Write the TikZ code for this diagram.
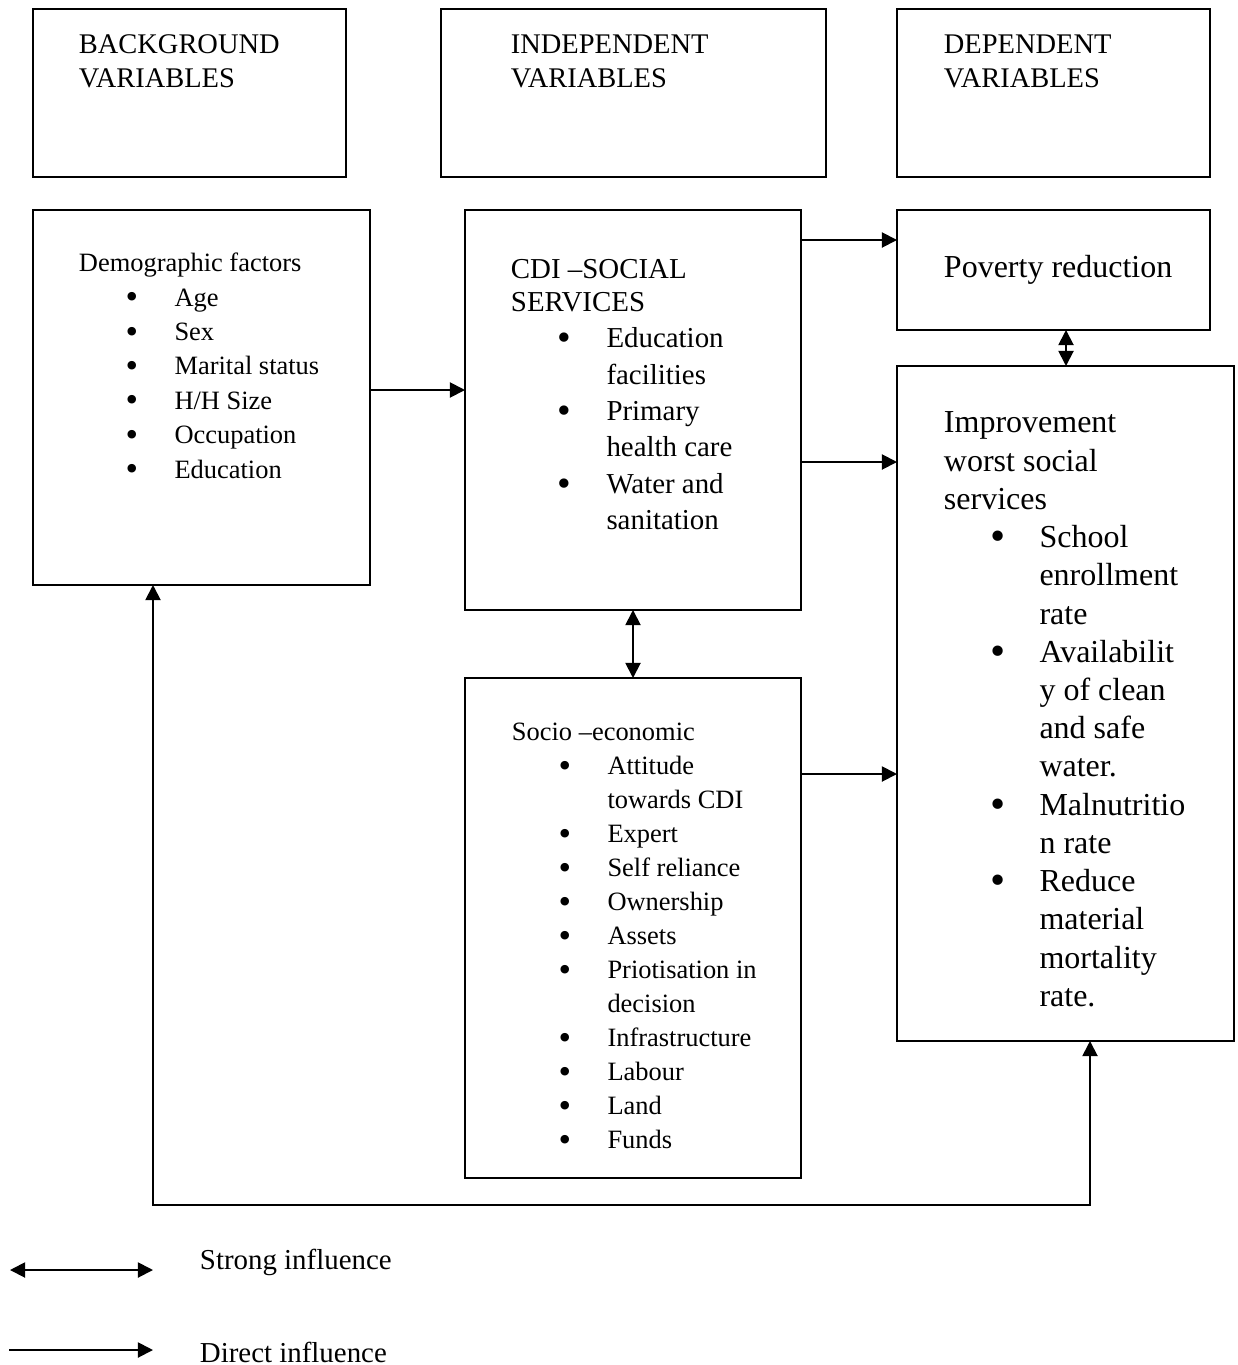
\documentclass[tikz,border=0pt]{standalone}
\usepackage{fontspec}
\usepackage{graphicx}
\setmainfont{Liberation Serif}
\usetikzlibrary{arrows.meta}

% bullet lines inside the boxes
\newcommand{\bitem}[1]{\hspace*{21pt}\makebox[22pt][l]{\raisebox{-0.1em}{\scalebox{1.35}{\textbullet}}}#1}
\newcommand{\bcont}[1]{\hspace*{43pt}#1}

\begin{document}
\begin{tikzpicture}[x=0.45pt, y=-0.45pt, line width=0.85pt,
    box/.style 2 args={draw, rectangle, inner sep=0pt, outer sep=0pt,
      minimum width=#1*0.45pt, minimum height=#2*0.45pt},
    txt/.style={anchor=north west, inner sep=0pt, align=left},
    headfont/.style={font=\fontsize{12.8pt}{15.1pt}\selectfont},
    smallfont/.style={font=\fontsize{11.9pt}{15.5pt}\selectfont},
    midfont/.style={font=\fontsize{13pt}{16.4pt}\selectfont},
    bigfont/.style={font=\fontsize{14.4pt}{17.2pt}\selectfont},
    dir/.style={-{Triangle[length=6.8pt,width=6.8pt]}},
    both/.style={{Triangle[length=6.8pt,width=6.8pt]}-{Triangle[length=6.8pt,width=6.8pt]}}]
  \useasboundingbox (0,0) rectangle (1237,1365);

  % column headings
  \node[box={313}{168}] (bghead) at (189.5,93) {};
  \node[box={385}{168}] (indhead) at (633.5,93) {};
  \node[box={313}{168}] (dephead) at (1053.5,93) {};
  \node[txt, headfont] (bgtxt) at (78,34) {BACKGROUND\\VARIABLES};
  \node[txt, headfont] (indtxt) at (510,34) {INDEPENDENT\\VARIABLES};
  \node[txt, headfont] (deptxt) at (943,34) {DEPENDENT\\VARIABLES};

  % boxes
  \node[box={337}{375}] (demo) at (201.5,397.5) {};
  \node[box={336}{400}] (cdi) at (633,410) {};
  \node[box={313}{120}] (pov) at (1053.5,270) {};
  \node[box={337}{675}] (impr) at (1065.5,703.5) {};
  \node[box={336}{500}] (socio) at (633,928) {};

  \node[txt, smallfont] (demotxt) at (78,252) {Demographic factors\\
    \bitem{Age}\\ \bitem{Sex}\\ \bitem{Marital status}\\
    \bitem{H/H Size}\\ \bitem{Occupation}\\ \bitem{Education}};
  \node[txt, midfont] (cditxt) at (510,258) {CDI –SOCIAL\\[-1.5pt]
    SERVICES\\ \bitem{Education}\\ \bcont{facilities}\\
    \bitem{Primary}\\ \bcont{health care}\\
    \bitem{Water and}\\ \bcont{sanitation}};
  \node[txt, bigfont] (povtxt) at (943,254) {Poverty reduction};
  \node[txt, bigfont] (imprtxt) at (943,411) {Improvement\\
    worst social\\ services\\
    \bitem{School}\\ \bcont{enrollment}\\ \bcont{rate}\\
    \bitem{Availabilit}\\ \bcont{y of clean}\\ \bcont{and safe}\\ \bcont{water.}\\
    \bitem{Malnutritio}\\ \bcont{n rate}\\
    \bitem{Reduce}\\ \bcont{material}\\ \bcont{mortality}\\ \bcont{rate.}};
  \node[txt, font=\fontsize{11.9pt}{15.3pt}\selectfont] (sociotxt) at (511,722) {Socio –economic\\
    \bitem{Attitude}\\ \bcont{towards CDI}\\ \bitem{Expert}\\
    \bitem{Self reliance}\\ \bitem{Ownership}\\ \bitem{Assets}\\
    \bitem{Priotisation in}\\ \bcont{decision}\\ \bitem{Infrastructure}\\
    \bitem{Labour}\\ \bitem{Land}\\ \bitem{Funds}};

  % connectors
  \draw[dir] (demo.east |- 0,390) -- (cdi.west |- 0,390);
  \draw[dir] (cdi.east |- 0,240) -- (pov.west |- 0,240);
  \draw[dir] (cdi.east |- 0,462) -- (impr.west |- 0,462);
  \draw[dir] (socio.east |- 0,774) -- (impr.west |- 0,774);
  \draw[both] (cdi.south) -- (socio.north);
  \draw[both] (pov.south -| 1066,0) -- (impr.north -| 1066,0);

  % feedback loop
  \coordinate (fbl) at (153,1205);
  \coordinate (fbr) at (1090,1205);
  \draw[both] (fbl |- demo.south) -- (fbl) -- (fbr) -- (fbr |- impr.south);

  % legend
  \coordinate (sa) at (10,1270);
  \coordinate (sb) at (153,1270);
  \coordinate (da) at (9,1350);
  \coordinate (db) at (153,1350);
  \draw[both] (sa) -- (sb);
  \draw[dir] (da) -- (db);
  \node[anchor=base west, inner sep=0pt, midfont] (strongtxt) at (199,1269) {Strong influence};
  \node[anchor=base west, inner sep=0pt, midfont] (directtxt) at (199,1362) {Direct influence};
\end{tikzpicture}
\end{document}
